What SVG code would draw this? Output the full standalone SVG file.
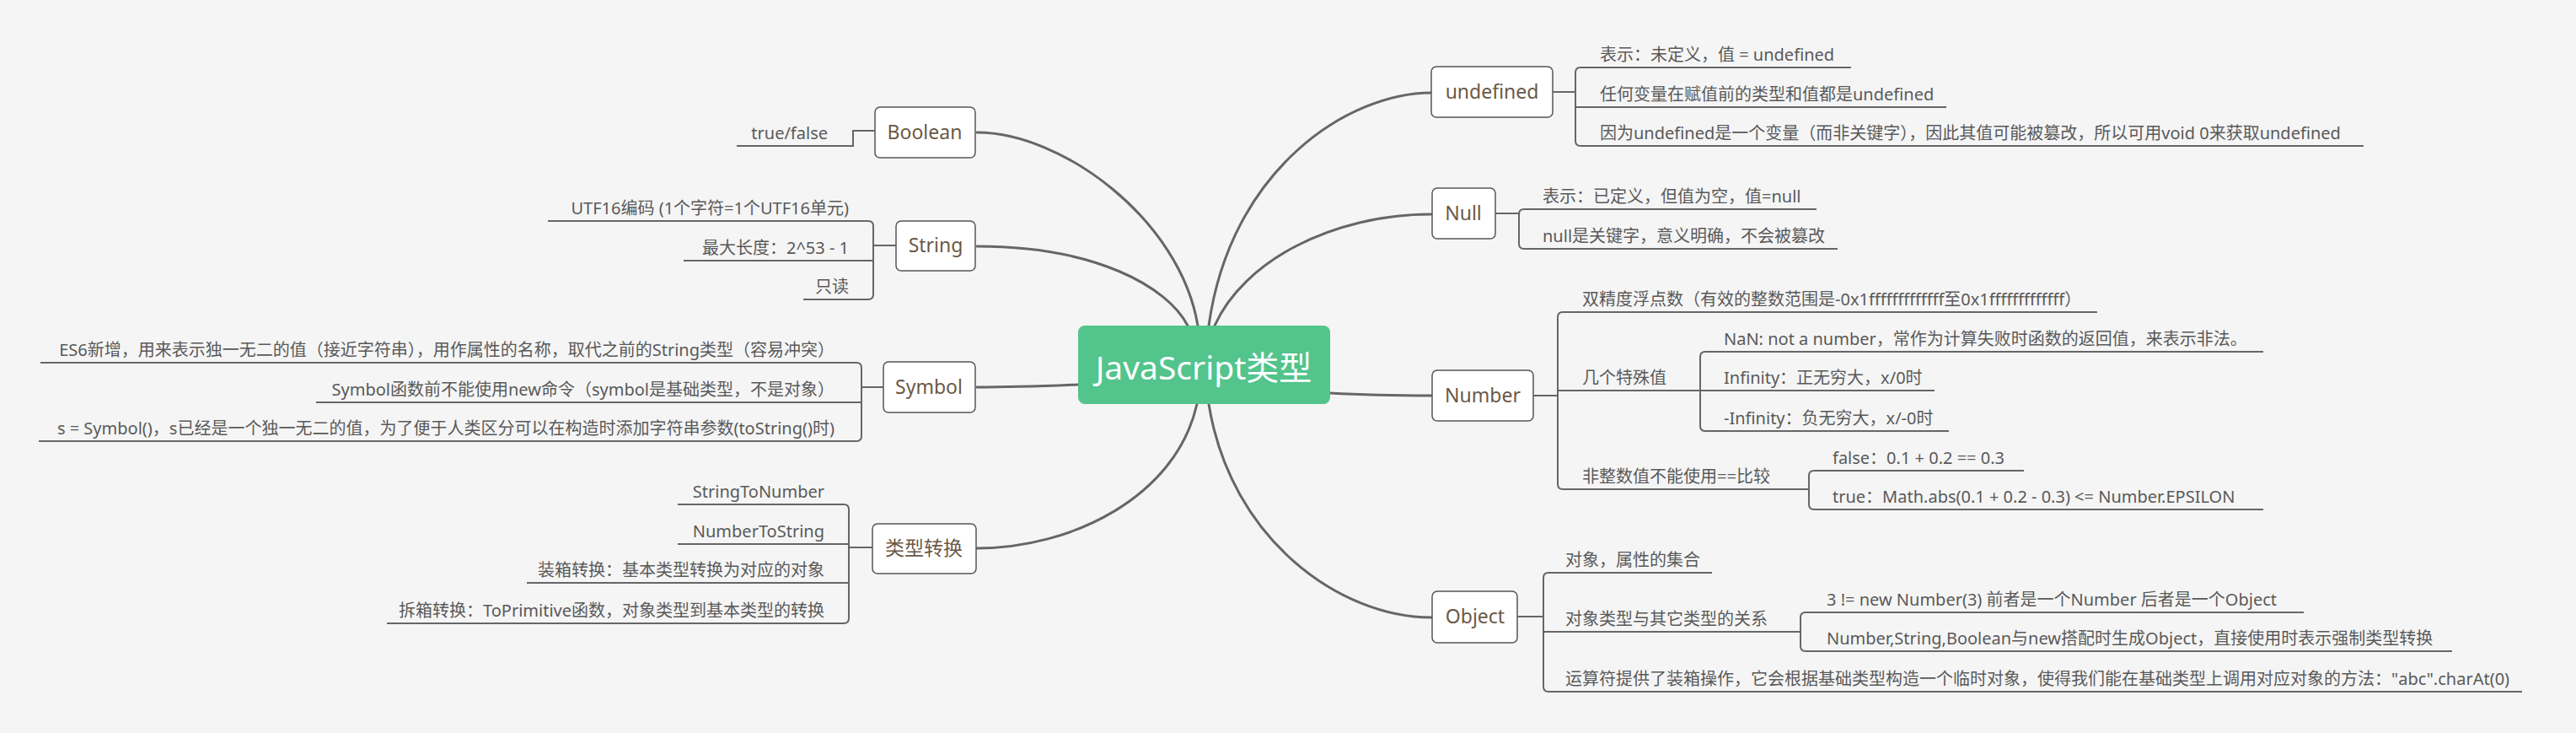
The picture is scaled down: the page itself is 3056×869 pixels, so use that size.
<svg xmlns="http://www.w3.org/2000/svg" width="3056" height="869" viewBox="0 0 3056 869">
<style>
.bg{fill:#f5f5f5}
.curve{fill:none;stroke:#666;stroke-width:3;stroke-linecap:round}
.br{fill:none;stroke:#666;stroke-width:2}
.box{fill:#fff;stroke:#555;stroke-width:1.5}
.nt{font-family:"Noto Sans","Noto Sans CJK SC",sans-serif;font-size:23px;fill:#6b5846;text-anchor:middle}
.ct{font-family:"Noto Sans","Noto Sans CJK SC",sans-serif;font-size:20px;fill:#595959}
.r{text-anchor:end}
.main{fill:#52c48c}
.mt{font-family:"Noto Sans","Noto Sans CJK SC",sans-serif;font-size:39px;fill:#fff;text-anchor:middle}
</style>
<rect class="bg" x="0" y="0" width="3056" height="869"/>
<g id="connectors">
<path class="curve" d="M1421,386 C1400,260 1260,157 1159,157"/>
<path class="curve" d="M1409,386 C1385,340 1300,292 1159,292"/>
<path class="curve" d="M1279,456 C1230,458 1200,459 1159,459"/>
<path class="curve" d="M1420,479 C1395,590 1270,650 1159,650"/>
<path class="curve" d="M1434,386 C1460,200 1600,110 1698,110"/>
<path class="curve" d="M1441,386 C1475,310 1580,254 1698,254"/>
<path class="curve" d="M1578,466 C1630,469 1660,469 1698,469"/>
<path class="curve" d="M1434,479 C1460,640 1590,732 1698,732"/>
</g>
<g id="center">
<rect class="main" x="1279" y="386" width="299" height="93" rx="8"/>
<text class="mt" x="1428" y="450">JavaScript类型</text>
</g>
<g id="boolean">
<rect class="box" x="1038" y="127" width="119" height="60" rx="6"/>
<text class="nt" x="1097" y="165">Boolean</text>
<path class="br" d="M1038,155 H1012 V173 H874"/>
<text class="ct r" x="982" y="165">true/false</text>
</g>
<g id="string">
<rect class="box" x="1063" y="262" width="94" height="59" rx="6"/>
<text class="nt" x="1110" y="299">String</text>
<path class="br" d="M1063,291 H1036 M650,262 H1030 Q1036,262 1036,268 V349 Q1036,355 1030,355 H953 M811,309 H1036"/>
<text class="ct r" x="1007" y="254">UTF16编码 (1个字符=1个UTF16单元)</text>
<text class="ct r" x="1007" y="301">最大长度：2^53 - 1</text>
<text class="ct r" x="1007" y="347">只读</text>
</g>
<g id="symbol">
<rect class="box" x="1048" y="429" width="109" height="60" rx="6"/>
<text class="nt" x="1102" y="467">Symbol</text>
<path class="br" d="M1048,459 H1022 M48,430 H1016 Q1022,430 1022,436 V517 Q1022,523 1016,523 H46 M375,477 H1022"/>
<text class="ct r" x="990" y="422">ES6新增，用来表示独一无二的值（接近字符串），用作属性的名称，取代之前的String类型（容易冲突）</text>
<text class="ct r" x="990" y="469">Symbol函数前不能使用new命令（symbol是基础类型，不是对象）</text>
<text class="ct r" x="990" y="515">s = Symbol()，s已经是一个独一无二的值，为了便于人类区分可以在构造时添加字符串参数(toString()时)</text>
</g>
<g id="conversion">
<rect class="box" x="1035" y="621" width="123" height="59" rx="6"/>
<text class="nt" x="1096" y="658">类型转换</text>
<path class="br" d="M1035,649 H1007 M804,598 H1001 Q1007,598 1007,604 V733 Q1007,739 1001,739 H459 M804,645 H1007 M625,691 H1007"/>
<text class="ct r" x="978" y="590">StringToNumber</text>
<text class="ct r" x="978" y="637">NumberToString</text>
<text class="ct r" x="978" y="683">装箱转换：基本类型转换为对应的对象</text>
<text class="ct r" x="978" y="731">拆箱转换：ToPrimitive函数，对象类型到基本类型的转换</text>
</g>
<g id="undefined">
<rect class="box" x="1698" y="79" width="144" height="60" rx="6"/>
<text class="nt" x="1770" y="117">undefined</text>
<path class="br" d="M1842,109 H1869 M2196,80 H1875 Q1869,80 1869,86 V167 Q1869,173 1875,173 H2804 M1869,127 H2309"/>
<text class="ct" x="1898" y="72">表示：未定义，值 = undefined</text>
<text class="ct" x="1898" y="119">任何变量在赋值前的类型和值都是undefined</text>
<text class="ct" x="1898" y="165">因为undefined是一个变量（而非关键字），因此其值可能被篡改，所以可用void 0来获取undefined</text>
</g>
<g id="null">
<rect class="box" x="1699" y="223" width="75" height="60" rx="6"/>
<text class="nt" x="1736" y="261">Null</text>
<path class="br" d="M1774,253 H1802 M2155,248 H1808 Q1802,248 1802,254 V289 Q1802,295 1808,295 H2180"/>
<text class="ct" x="1830" y="240">表示：已定义，但值为空，值=null</text>
<text class="ct" x="1830" y="287">null是关键字，意义明确，不会被篡改</text>
</g>
<g id="number">
<rect class="box" x="1699" y="439" width="120" height="60" rx="6"/>
<text class="nt" x="1759" y="477">Number</text>
<path class="br" d="M1819,469 H1848 M2488,370 H1854 Q1848,370 1848,376 V574 Q1848,580 1854,580 H2146 M1848,463 H2017"/>
<path class="br" d="M2685,417 H2023 Q2017,417 2017,423 V505 Q2017,511 2023,511 H2312 M2017,463 H2295"/>
<path class="br" d="M2401,558 H2152 Q2146,558 2146,564 V598 Q2146,604 2152,604 H2685"/>
<text class="ct" x="1877" y="362">双精度浮点数（有效的整数范围是-0x1fffffffffffff至0x1fffffffffffff）</text>
<text class="ct" x="1877" y="455">几个特殊值</text>
<text class="ct" x="2045" y="409">NaN: not a number，常作为计算失败时函数的返回值，来表示非法。</text>
<text class="ct" x="2045" y="455">Infinity：正无穷大，x/0时</text>
<text class="ct" x="2045" y="503">-Infinity：负无穷大，x/-0时</text>
<text class="ct" x="1877" y="572">非整数值不能使用==比较</text>
<text class="ct" x="2174" y="550">false：0.1 + 0.2 == 0.3</text>
<text class="ct" x="2174" y="596">true：Math.abs(0.1 + 0.2 - 0.3) &lt;= Number.EPSILON</text>
</g>
<g id="object">
<rect class="box" x="1699" y="701" width="101" height="61" rx="6"/>
<text class="nt" x="1750" y="739">Object</text>
<path class="br" d="M1800,731 H1831 M2031,679 H1837 Q1831,679 1831,685 V814 Q1831,820 1837,820 H2992 M1831,749 H2136"/>
<path class="br" d="M2733,726 H2142 Q2136,726 2136,732 V766 Q2136,772 2142,772 H2909"/>
<text class="ct" x="1857" y="671">对象，属性的集合</text>
<text class="ct" x="1857" y="741">对象类型与其它类型的关系</text>
<text class="ct" x="2167" y="718">3 != new Number(3) 前者是一个Number 后者是一个Object</text>
<text class="ct" x="2167" y="764">Number,String,Boolean与new搭配时生成Object，直接使用时表示强制类型转换</text>
<text class="ct" x="1857" y="812">运算符提供了装箱操作，它会根据基础类型构造一个临时对象，使得我们能在基础类型上调用对应对象的方法："abc".charAt(0)</text>
</g>
</svg>
